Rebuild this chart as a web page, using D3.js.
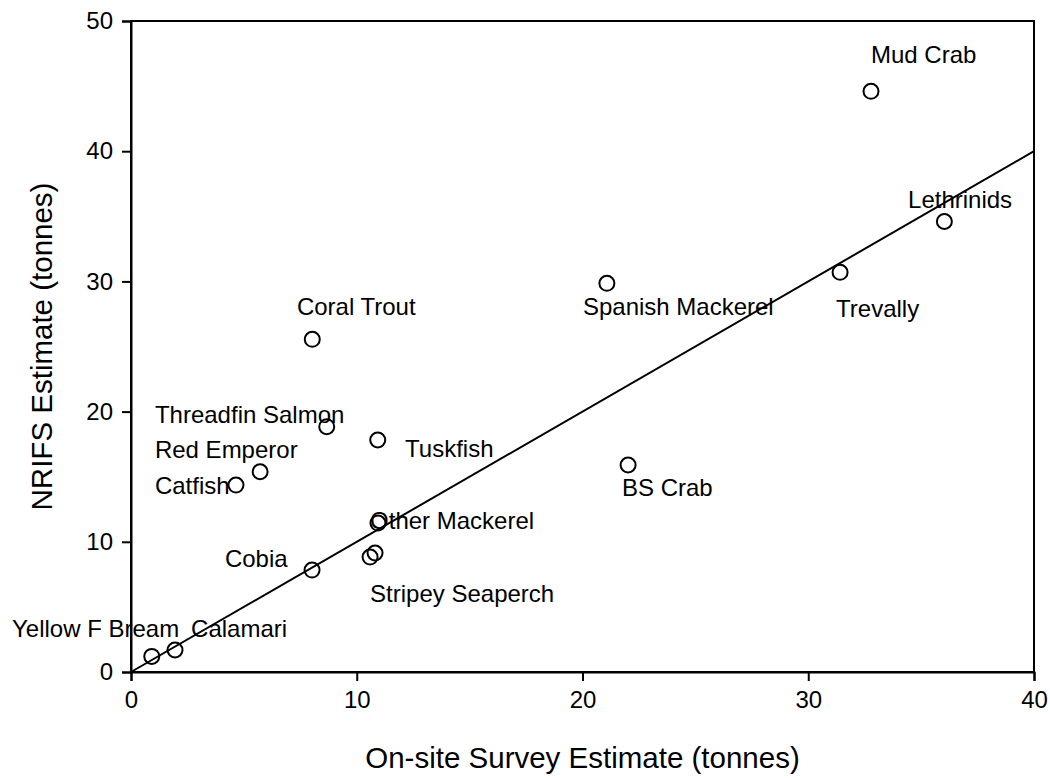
<!DOCTYPE html>
<html lang="en">
  <head>
    <meta charset="UTF-8" />
    <title>NRIFS vs On-site Survey Estimate</title>
    <script src="https://d3js.org/d3.v7.min.js"></script>
    <style>
      body {
        margin: 0;
        background: #fff;
      }
      svg text {
        font-family: "Liberation Sans", Arial, sans-serif;
        fill: #000;
      }
      .tick text {
        font-size: 24px;
      }
      .label {
        font-size: 24px;
      }
      .axis-title {
        font-size: 29.5px;
      }
    </style>
  </head>
  <body>
    <svg id="chart" width="1050" height="778"></svg>

    <script>
      // species names and estimates (tonnes)
      const species = [
        "Yellow F Bream", "Calamari", "Catfish", "Red Emperor", "Threadfin Salmon",
        "Coral Trout", "Tuskfish", "Cobia", "Other Mackerel", "Stripey Seaperch", "",
        "Spanish Mackerel", "BS Crab", "Trevally", "Lethrinids", "Mud Crab"
      ];
      const onsite = [0.92, 1.95, 4.65, 5.72, 8.67, 8.03, 10.93, 8.02, 10.94, 10.59, 10.81, 21.08, 22.02, 31.41, 36.03, 32.78];
      const nrifs = [1.2, 1.69, 14.36, 15.38, 18.84, 25.55, 17.82, 7.83, 11.44, 8.83, 9.14, 29.85, 15.9, 30.7, 34.6, 44.6];

      // label anchor points, in data units
      const labelX = [-5.27, 2.66, 1.06, 1.06, 1.06, 7.35, 12.14, 4.16, 10.59, 10.59, null, 20.02, 21.75, 31.23, 34.42, 32.78];
      const labelY = [2.69, 2.69, 13.67, 16.44, 19.12, 27.42, 16.51, 8.06, 10.98, 5.38, null, 27.42, 13.52, 27.27, 35.64, 46.77];

      // fitted line
      const lineX = [0, 40];
      const lineY = [0, 40];

      const xTicks = [0, 10, 20, 30, 40];
      const yTicks = [0, 10, 20, 30, 40, 50];

      const svg = d3.select("#chart");
      const margin = { top: 21, right: 16, bottom: 106, left: 131 };
      const width = +svg.attr("width") - margin.left - margin.right;
      const height = +svg.attr("height") - margin.top - margin.bottom;

      const g = svg.append("g").attr("transform", `translate(${margin.left},${margin.top})`);

      const x = d3.scaleLinear().domain([0, 40]).range([0, width]);
      const y = d3.scaleLinear().domain([0, 50]).range([height, 0]);

      // frame
      g.append("rect")
        .attr("width", width)
        .attr("height", height)
        .attr("fill", "none")
        .attr("stroke", "#000")
        .attr("stroke-width", 2);

      const xAxis = g.append("g")
        .attr("transform", `translate(0,${height})`)
        .call(d3.axisBottom(x).tickValues(xTicks).tickSize(9).tickPadding(10).tickFormat(d3.format("d")));
      const yAxis = g.append("g")
        .call(d3.axisLeft(y).tickValues(yTicks).tickSize(9).tickPadding(9).tickFormat(d3.format("d")));

      [xAxis, yAxis].forEach((a) => {
        a.select(".domain").attr("stroke", "#000").attr("stroke-width", 2);
        a.selectAll(".tick line").attr("stroke", "#000").attr("stroke-width", 2);
        a.selectAll(".tick text").attr("fill", "#000").style("font-family", "Liberation Sans, Arial, sans-serif");
      });

      // regression line
      const pts = lineX.map((v, i) => [v, lineY[i]]);
      g.append("path")
        .datum(pts)
        .attr("fill", "none")
        .attr("stroke", "#000")
        .attr("stroke-width", 2)
        .attr("d", d3.line().x((d) => x(d[0])).y((d) => y(d[1])));

      const data = species.map((s, i) => ({
        name: s, ox: onsite[i], ny: nrifs[i], lx: labelX[i], ly: labelY[i]
      }));

      g.selectAll(".pt")
        .data(data)
        .enter()
        .append("circle")
        .attr("class", "pt")
        .attr("cx", (d) => x(d.ox))
        .attr("cy", (d) => y(d.ny))
        .attr("r", 7.5)
        .attr("fill", "none")
        .attr("stroke", "#000")
        .attr("stroke-width", 2);

      g.selectAll(".label")
        .data(data.filter((d) => d.name))
        .enter()
        .append("text")
        .attr("class", "label")
        .attr("x", (d) => x(d.lx))
        .attr("y", (d) => y(d.ly))
        .text((d) => d.name);

      svg.append("text")
        .attr("class", "axis-title")
        .attr("text-anchor", "middle")
        .attr("x", margin.left + width / 2)
        .attr("y", 768)
        .text("On-site Survey Estimate (tonnes)");

      svg.append("text")
        .attr("class", "axis-title")
        .attr("text-anchor", "middle")
        .attr("transform", `translate(52,${margin.top + height / 2}) rotate(-90)`)
        .text("NRIFS Estimate (tonnes)");
    </script>
  </body>
</html>
